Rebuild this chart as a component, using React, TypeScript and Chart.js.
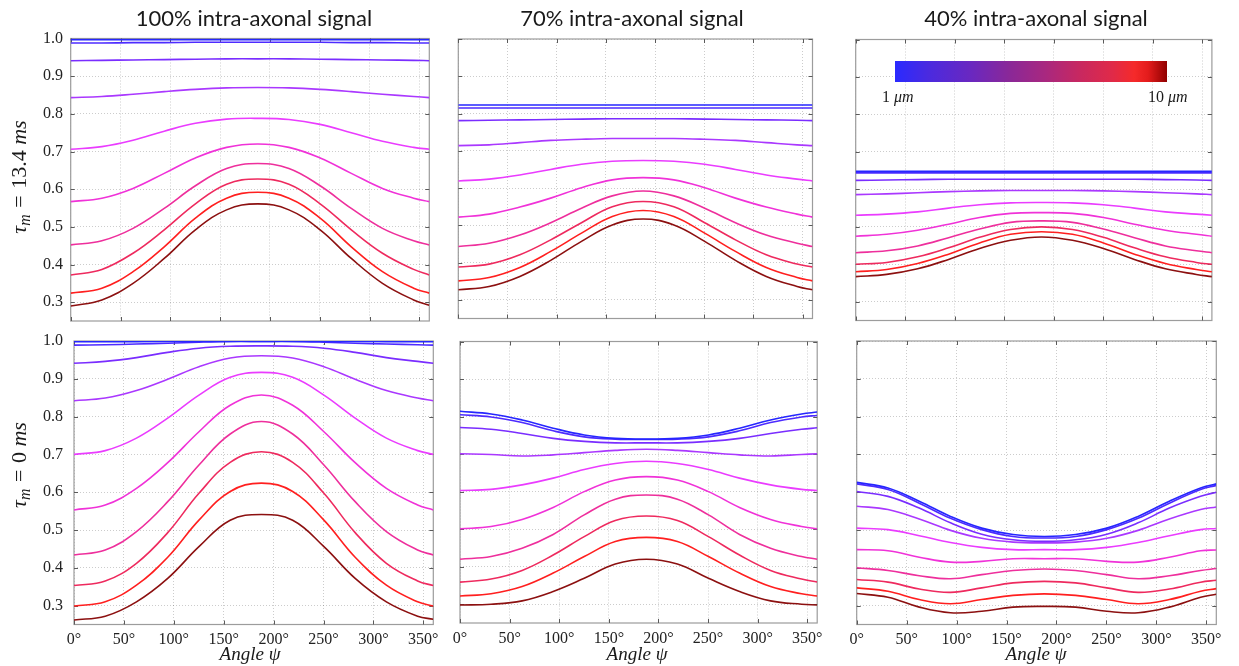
import React, { useEffect, useRef } from "react";
import { Chart, registerables } from "chart.js";

Chart.register(...registerables);

// ---------- data ----------
const ANGLES = [0, 31.3, 62.6, 93.9, 125.2, 156.5, 187.8, 219.1, 250.4, 281.7, 313.0, 344.3, 360];
const X_MIN = 0;
const X_MAX = 360;
const X_STEP = 50;
const Y_MIN = 0.25;
const Y_MAX = 1.0;
const Y_STEP = 0.1;

const COLUMN_TITLES = ["100% intra-axonal signal", "70% intra-axonal signal", "40% intra-axonal signal"];
const ROW_TAU = ["13.4", "0"];
const X_TITLE = "Angle";
const COLORBAR_LABELS = ["1", "10"];

// axon diameter 1 µm (blue) ... 10 µm (dark red)
const DIAMETER_COLORS = [
  "#2626ff", "#4d2bff", "#7a2dff", "#aa38ff", "#ea3cff",
  "#f032d8", "#ee2f9c", "#ee2a5e", "#ff1f1f", "#8c1010",
];

// 100% intra-axonal, tau_m = 13.4 ms
const intra100_tau134: number[][] = [
  [0.997, 0.997, 0.997, 0.997, 0.997, 0.997, 0.997, 0.997, 0.997, 0.997, 0.997, 0.997, 0.997],
  [0.988, 0.988, 0.989, 0.989, 0.990, 0.990, 0.990, 0.990, 0.990, 0.989, 0.989, 0.988, 0.988],
  [0.941, 0.942, 0.943, 0.944, 0.945, 0.946, 0.946, 0.946, 0.945, 0.944, 0.943, 0.942, 0.941],
  [0.843, 0.846, 0.852, 0.859, 0.865, 0.869, 0.870, 0.869, 0.865, 0.859, 0.852, 0.846, 0.843],
  [0.706, 0.713, 0.730, 0.754, 0.775, 0.786, 0.788, 0.785, 0.772, 0.750, 0.727, 0.711, 0.706],
  [0.567, 0.576, 0.602, 0.642, 0.683, 0.711, 0.720, 0.711, 0.683, 0.642, 0.602, 0.576, 0.567],
  [0.452, 0.463, 0.496, 0.549, 0.609, 0.655, 0.668, 0.655, 0.609, 0.549, 0.496, 0.463, 0.452],
  [0.372, 0.387, 0.430, 0.492, 0.561, 0.613, 0.627, 0.613, 0.561, 0.492, 0.430, 0.387, 0.372],
  [0.324, 0.337, 0.381, 0.447, 0.523, 0.576, 0.592, 0.576, 0.523, 0.447, 0.381, 0.337, 0.324],
  [0.290, 0.306, 0.350, 0.416, 0.492, 0.545, 0.561, 0.545, 0.492, 0.416, 0.350, 0.306, 0.292],
];

// 70% intra-axonal, tau_m = 13.4 ms
const intra70_tau134: number[][] = [
  [0.823, 0.823, 0.823, 0.823, 0.823, 0.823, 0.823, 0.823, 0.823, 0.823, 0.823, 0.823, 0.823],
  [0.815, 0.815, 0.815, 0.815, 0.815, 0.815, 0.815, 0.815, 0.815, 0.815, 0.815, 0.815, 0.815],
  [0.781, 0.782, 0.783, 0.784, 0.785, 0.786, 0.786, 0.786, 0.785, 0.784, 0.783, 0.782, 0.781],
  [0.714, 0.716, 0.722, 0.728, 0.731, 0.733, 0.733, 0.733, 0.731, 0.728, 0.722, 0.716, 0.714],
  [0.619, 0.624, 0.635, 0.650, 0.664, 0.672, 0.674, 0.672, 0.664, 0.650, 0.635, 0.624, 0.619],
  [0.522, 0.530, 0.549, 0.573, 0.601, 0.622, 0.628, 0.622, 0.601, 0.573, 0.549, 0.530, 0.522],
  [0.443, 0.452, 0.474, 0.507, 0.546, 0.579, 0.592, 0.579, 0.546, 0.507, 0.474, 0.452, 0.443],
  [0.388, 0.396, 0.421, 0.461, 0.507, 0.550, 0.564, 0.550, 0.507, 0.461, 0.421, 0.396, 0.388],
  [0.351, 0.360, 0.387, 0.430, 0.479, 0.524, 0.540, 0.524, 0.479, 0.430, 0.387, 0.360, 0.351],
  [0.327, 0.336, 0.363, 0.406, 0.457, 0.501, 0.517, 0.501, 0.457, 0.406, 0.363, 0.336, 0.327],
];

// 40% intra-axonal, tau_m = 13.4 ms
const intra40_tau134: number[][] = [
  [0.648, 0.648, 0.648, 0.648, 0.648, 0.648, 0.648, 0.648, 0.648, 0.648, 0.648, 0.648, 0.648],
  [0.644, 0.644, 0.644, 0.644, 0.644, 0.644, 0.644, 0.644, 0.644, 0.644, 0.644, 0.644, 0.644],
  [0.624, 0.625, 0.626, 0.627, 0.627, 0.627, 0.627, 0.627, 0.627, 0.627, 0.626, 0.625, 0.624],
  [0.586, 0.588, 0.591, 0.594, 0.596, 0.597, 0.597, 0.597, 0.596, 0.594, 0.591, 0.588, 0.586],
  [0.531, 0.534, 0.540, 0.550, 0.559, 0.564, 0.565, 0.564, 0.559, 0.550, 0.540, 0.534, 0.531],
  [0.475, 0.480, 0.491, 0.507, 0.525, 0.536, 0.538, 0.536, 0.525, 0.507, 0.491, 0.480, 0.475],
  [0.431, 0.436, 0.449, 0.471, 0.494, 0.512, 0.516, 0.512, 0.494, 0.471, 0.449, 0.436, 0.431],
  [0.400, 0.405, 0.420, 0.444, 0.472, 0.493, 0.500, 0.493, 0.472, 0.444, 0.420, 0.405, 0.400],
  [0.380, 0.386, 0.402, 0.427, 0.457, 0.480, 0.487, 0.480, 0.457, 0.427, 0.402, 0.386, 0.380],
  [0.367, 0.373, 0.388, 0.413, 0.442, 0.464, 0.473, 0.464, 0.442, 0.413, 0.388, 0.373, 0.367],
];

// 100% intra-axonal, tau_m = 0 ms
const intra100_tau0: number[][] = [
  [0.998, 0.998, 0.998, 0.999, 0.999, 0.999, 0.999, 0.999, 0.999, 0.999, 0.998, 0.998, 0.998],
  [0.989, 0.990, 0.992, 0.994, 0.997, 0.999, 0.999, 0.999, 0.997, 0.994, 0.992, 0.990, 0.989],
  [0.941, 0.946, 0.956, 0.970, 0.981, 0.986, 0.987, 0.986, 0.981, 0.970, 0.956, 0.946, 0.941],
  [0.842, 0.849, 0.869, 0.899, 0.932, 0.955, 0.961, 0.955, 0.932, 0.899, 0.869, 0.849, 0.842],
  [0.700, 0.710, 0.743, 0.796, 0.857, 0.904, 0.917, 0.904, 0.857, 0.796, 0.743, 0.710, 0.700],
  [0.553, 0.566, 0.610, 0.678, 0.760, 0.830, 0.857, 0.830, 0.760, 0.678, 0.610, 0.566, 0.553],
  [0.434, 0.447, 0.496, 0.575, 0.672, 0.754, 0.787, 0.754, 0.672, 0.575, 0.496, 0.447, 0.434],
  [0.353, 0.365, 0.412, 0.493, 0.597, 0.679, 0.707, 0.679, 0.597, 0.493, 0.412, 0.365, 0.353],
  [0.299, 0.310, 0.354, 0.428, 0.526, 0.602, 0.624, 0.602, 0.526, 0.428, 0.354, 0.310, 0.299],
  [0.262, 0.272, 0.310, 0.372, 0.456, 0.526, 0.541, 0.526, 0.456, 0.372, 0.310, 0.272, 0.264],
];

// 70% intra-axonal, tau_m = 0 ms
const intra70_tau0: number[][] = [
  [0.814, 0.807, 0.791, 0.769, 0.751, 0.742, 0.740, 0.742, 0.751, 0.769, 0.791, 0.807, 0.812],
  [0.805, 0.799, 0.784, 0.762, 0.746, 0.740, 0.739, 0.740, 0.746, 0.762, 0.784, 0.799, 0.803],
  [0.771, 0.766, 0.755, 0.742, 0.734, 0.730, 0.730, 0.730, 0.734, 0.742, 0.755, 0.766, 0.770],
  [0.701, 0.699, 0.695, 0.698, 0.704, 0.710, 0.713, 0.710, 0.704, 0.698, 0.695, 0.699, 0.701],
  [0.603, 0.606, 0.618, 0.636, 0.659, 0.675, 0.681, 0.675, 0.659, 0.636, 0.618, 0.606, 0.603],
  [0.501, 0.507, 0.526, 0.558, 0.600, 0.631, 0.640, 0.631, 0.600, 0.558, 0.526, 0.507, 0.501],
  [0.420, 0.427, 0.449, 0.486, 0.538, 0.580, 0.591, 0.580, 0.538, 0.486, 0.449, 0.427, 0.420],
  [0.359, 0.367, 0.390, 0.431, 0.480, 0.523, 0.535, 0.523, 0.480, 0.431, 0.390, 0.367, 0.359],
  [0.322, 0.328, 0.347, 0.383, 0.427, 0.467, 0.478, 0.467, 0.427, 0.383, 0.347, 0.328, 0.322],
  [0.298, 0.300, 0.309, 0.334, 0.369, 0.407, 0.420, 0.407, 0.369, 0.334, 0.309, 0.300, 0.298],
];

// 40% intra-axonal, tau_m = 0 ms
const intra40_tau0: number[][] = [
  [0.626, 0.611, 0.576, 0.536, 0.505, 0.488, 0.483, 0.488, 0.505, 0.536, 0.576, 0.611, 0.622],
  [0.622, 0.607, 0.571, 0.531, 0.501, 0.483, 0.479, 0.483, 0.501, 0.531, 0.571, 0.607, 0.618],
  [0.602, 0.589, 0.558, 0.519, 0.489, 0.474, 0.470, 0.474, 0.489, 0.519, 0.558, 0.589, 0.600],
  [0.563, 0.554, 0.529, 0.499, 0.478, 0.468, 0.466, 0.468, 0.478, 0.499, 0.529, 0.554, 0.561],
  [0.505, 0.501, 0.485, 0.467, 0.454, 0.448, 0.448, 0.448, 0.454, 0.467, 0.485, 0.501, 0.504],
  [0.448, 0.445, 0.428, 0.415, 0.417, 0.424, 0.424, 0.424, 0.417, 0.415, 0.428, 0.445, 0.447],
  [0.400, 0.393, 0.379, 0.371, 0.382, 0.393, 0.397, 0.393, 0.382, 0.371, 0.379, 0.393, 0.398],
  [0.369, 0.362, 0.344, 0.335, 0.347, 0.360, 0.364, 0.360, 0.347, 0.335, 0.344, 0.362, 0.367],
  [0.347, 0.338, 0.316, 0.305, 0.316, 0.327, 0.331, 0.327, 0.316, 0.305, 0.316, 0.338, 0.345],
  [0.332, 0.322, 0.296, 0.281, 0.285, 0.296, 0.298, 0.296, 0.285, 0.281, 0.296, 0.322, 0.330],
];

// ---------- layout ----------
const W = 1239;
const H = 666;
const Y_AXIS_W = 60;
const X_AXIS_H = 30;
const TICK_FONT = "'Liberation Serif', 'Times New Roman', serif";
const TEXT = "#222222";
const GRID = "rgba(0,0,0,0.20)";

type PanelDef = {
  series: number[][];
  left: number; top: number; right: number; bottom: number;
  showX: boolean; showY: boolean;
};

const PANELS: PanelDef[] = [
  { series: intra100_tau134, left: 70.7, top: 38.5, right: 429.3, bottom: 321, showX: false, showY: true },
  { series: intra70_tau134, left: 458.3, top: 39, right: 812.5, bottom: 318.5, showX: false, showY: false },
  { series: intra40_tau134, left: 855.7, top: 39.5, right: 1211.9, bottom: 320.5, showX: false, showY: false },
  { series: intra100_tau0, left: 74, top: 341, right: 433.3, bottom: 624.5, showX: true, showY: true },
  { series: intra70_tau0, left: 460, top: 341.5, right: 817.2, bottom: 623, showX: true, showY: false },
  { series: intra40_tau0, left: 856.7, top: 341, right: 1216.3, bottom: 624.5, showX: true, showY: false },
];

const frameTicks = {
  id: "frameTicks",
  beforeDatasetsDraw(chart: any) {
    const { ctx, chartArea: a, scales } = chart;
    const L = 4;
    ctx.save();
    ctx.strokeStyle = "#9c9c9c";
    ctx.lineWidth = 1.2;
    ctx.strokeRect(a.left, a.top, a.right - a.left, a.bottom - a.top);
    ctx.lineWidth = 1;
    ctx.strokeStyle = "#5a5a5a";
    ctx.beginPath();
    scales.x.ticks.forEach((t: any) => {
      const px = Math.round(scales.x.getPixelForValue(t.value)) + 0.5;
      ctx.moveTo(px, a.bottom);
      ctx.lineTo(px, a.bottom - L);
      ctx.moveTo(px, a.top);
      ctx.lineTo(px, a.top + L);
    });
    scales.y.ticks.forEach((t: any) => {
      const py = Math.round(scales.y.getPixelForValue(t.value)) + 0.5;
      ctx.moveTo(a.left, py);
      ctx.lineTo(a.left + L, py);
      ctx.moveTo(a.right, py);
      ctx.lineTo(a.right - L, py);
    });
    ctx.stroke();
    ctx.restore();
  },
};

function Panel({ def }: { def: PanelDef }) {
  const ref = useRef<HTMLCanvasElement | null>(null);
  useEffect(() => {
    const canvas = ref.current;
    if (!canvas) return;
    const chart = new Chart(canvas, {
      type: "line",
      data: {
        datasets: def.series.map((vals, i) => ({
          label: `d${i + 1}`,
          data: ANGLES.map((a, j) => ({ x: a, y: vals[j] })),
          borderColor: DIAMETER_COLORS[i],
          backgroundColor: DIAMETER_COLORS[i],
          borderWidth: 1.6,
          pointRadius: 0,
          tension: 0.4,
          fill: false,
        })),
      },
      options: {
        responsive: false,
        animation: false,
        events: [],
        layout: {
          padding: {
            left: def.left - (def.showY ? Y_AXIS_W : 0),
            top: def.top,
            right: W - def.right,
            bottom: H - def.bottom - (def.showX ? X_AXIS_H : 0),
          },
        },
        plugins: {
          legend: { display: false },
          tooltip: { enabled: false },
          title: { display: false },
        },
        scales: {
          x: {
            type: "linear",
            min: X_MIN,
            max: X_MAX,
            ticks: {
              stepSize: X_STEP,
              includeBounds: false,
              display: def.showX,
              autoSkip: false,
              maxRotation: 0,
              padding: 6,
              color: TEXT,
              font: { family: TICK_FONT, size: 16 },
              callback: (v: any) => `${v}°`,
            },
            grid: { color: GRID, drawTicks: false, lineWidth: 1 },
            border: { display: false, dash: [1, 2] },
            afterFit: (s: any) => {
              s.height = def.showX ? X_AXIS_H : 0;
            },
          },
          y: {
            type: "linear",
            min: Y_MIN,
            max: Y_MAX,
            ticks: {
              stepSize: Y_STEP,
              includeBounds: false,
              display: def.showY,
              autoSkip: false,
              padding: def.left - 63,
              color: TEXT,
              font: { family: TICK_FONT, size: 16 },
              callback: (v: any) => Number(v).toFixed(1),
            },
            grid: { color: GRID, drawTicks: false, lineWidth: 1 },
            border: { display: false, dash: [1, 2] },
            afterFit: (s: any) => {
              s.width = def.showY ? Y_AXIS_W : 0;
            },
          },
        },
      },
      plugins: [frameTicks],
    } as any);
    return () => chart.destroy();
  }, [def]);
  return (
    <canvas
      ref={ref}
      width={W}
      height={H}
      style={{ position: "absolute", left: 0, top: 0, width: W, height: H }}
    />
  );
}

const titleStyle: React.CSSProperties = {
  position: "absolute",
  transform: "translate(-50%, -50%)",
  fontFamily: "Lato, 'Open Sans', sans-serif",
  fontSize: 22,
  color: "#1a1a1a",
  whiteSpace: "nowrap",
  lineHeight: 1,
};

const mathStyle: React.CSSProperties = {
  position: "absolute",
  fontFamily: "'Liberation Serif', 'Times New Roman', serif",
  color: "#1a1a1a",
  whiteSpace: "nowrap",
  lineHeight: 1,
};

function TauLabel({ tau, cx, cy }: { tau: string; cx: number; cy: number }) {
  return (
    <div
      style={{
        ...mathStyle,
        left: cx,
        top: cy,
        fontSize: 22,
        transform: "translate(-50%, -50%) rotate(-90deg)",
      }}
    >
      <i>τ</i>
      <sub style={{ fontSize: "0.72em", verticalAlign: "-0.25em" }}>
        <i>m</i>
      </sub>
      <span style={{ padding: "0 0.3em" }}>=</span>
      {`${tau} `}
      <i>ms</i>
    </div>
  );
}

function AngleLabel({ cx, cy }: { cx: number; cy: number }) {
  return (
    <div style={{ ...mathStyle, left: cx, top: cy, fontSize: 19, transform: "translate(-50%, -50%)" }}>
      <i>{X_TITLE} ψ</i>
    </div>
  );
}

export default function App() {
  const titleX = [254, 632, 1036];
  const angleX = [250, 637, 1036];
  return (
    <div
      style={{
        position: "absolute",
        left: 0,
        top: 0,
        width: W,
        height: H,
        background: "#ffffff",
        overflow: "hidden",
      }}
    >
      {PANELS.map((p, i) => (
        <Panel key={i} def={p} />
      ))}
      {COLUMN_TITLES.map((t, i) => (
        <div key={t} style={{ ...titleStyle, left: titleX[i], top: 18 }}>
          {t}
        </div>
      ))}
      <TauLabel tau={ROW_TAU[0]} cx={20} cy={177} />
      <TauLabel tau={ROW_TAU[1]} cx={20} cy={465} />
      {angleX.map((x, i) => (
        <AngleLabel key={i} cx={x} cy={653} />
      ))}
      {/* colour bar: axon diameter */}
      <div
        style={{
          position: "absolute",
          left: 895,
          top: 61,
          width: 272,
          height: 21,
          background:
            "linear-gradient(to right, #2a2aff 0%, #4a2ae0 12%, #6a28c0 28%, #8a2898 42%, #a82880 55%, #c82860 68%, #e02a48 80%, #f52a2a 88%, #e41c1c 93%, #900000 100%)",
        }}
      />
      <div style={{ ...mathStyle, left: 882, top: 89, fontSize: 16 }}>
        {COLORBAR_LABELS[0]} <i>μm</i>
      </div>
      <div style={{ ...mathStyle, left: 1148, top: 89, fontSize: 16 }}>
        {COLORBAR_LABELS[1]} <i>μm</i>
      </div>
    </div>
  );
}
